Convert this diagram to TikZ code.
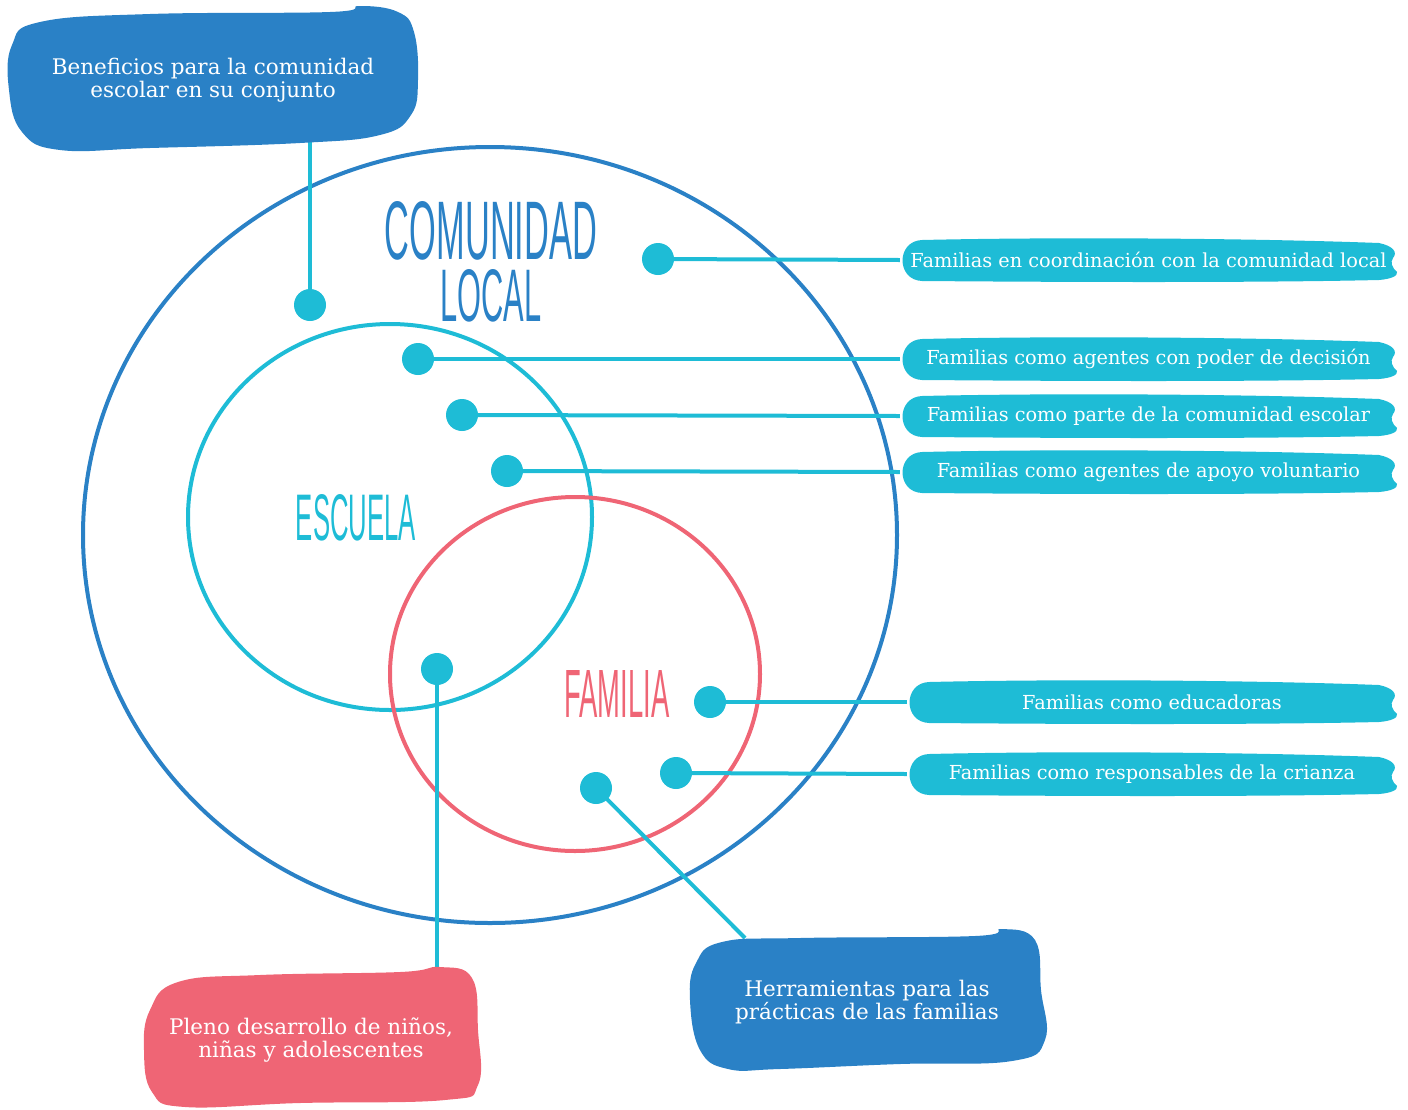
\documentclass[tikz,border=0pt]{standalone}
\usepackage{fontspec}
\usepackage{graphicx}
\setmainfont{DejaVu Serif}
\newfontfamily\handfont{Liberation Sans}
\usetikzlibrary{backgrounds}
\definecolor{cblue}{RGB}{42,129,198}
\definecolor{ccyan}{RGB}{30,188,214}
\definecolor{cpink}{RGB}{239,101,117}
\newcommand\mypill[4]{%
  \pgfmathsetmacro\pw{1397-#2}%
  \begin{scope}[shift={(#2,#3)}]
    \fill[ccyan] (22,-20) .. controls (150,-23) and (\pw-150,-22) .. (\pw-18,-17)
      .. controls (\pw-4,-14) and (\pw+1,-8) .. (\pw-4,-2)
      .. controls (\pw-7,2) and (\pw-5,8) .. (\pw,12)
      .. controls (\pw+1,16) and (\pw-6,19) .. (\pw-18,20)
      .. controls (\pw-150,23) and (150,22) .. (22,21)
      .. controls (-4,20) and (-4,-19) .. cycle;
  \end{scope}
  \node[pilltxt, minimum width=\pw pt] (#1) at ({(#2+1397)/2},#3) {#4};
}
\begin{document}
\begin{tikzpicture}[x=1pt,y=-1pt,
  pilltxt/.style={text=white, font=\fontsize{19.3}{22}\selectfont, inner sep=0pt, minimum height=40pt},
  boxtxt/.style={text=white, align=center, font=\fontsize{21.5}{22.5}\selectfont, inner sep=0pt},
  dot/.style={circle, fill=ccyan, minimum size=32pt, inner sep=0pt},
  conn/.style={ccyan, line width=4pt},
  ring/.style={line width=4pt},
  title/.style={inner sep=0pt, font=\handfont}]
\useasboundingbox (0,0) rectangle (1408,1109);

\begin{pgfonlayer}{background}
  \draw[ring, cblue] (490,535) ellipse [x radius=407, y radius=388];
  \draw[ring, ccyan] (390,517) ellipse [x radius=202, y radius=193];
  \draw[ring, cpink] (575,674) ellipse [x radius=185, y radius=177];
\end{pgfonlayer}

% blobs
\fill[cblue] plot[smooth cycle, tension=0.7] coordinates {(12,45) (40,22) (150,14) (330,12) (360,6) (398,12) (414,32) (418,80) (411,115) (380,135) (300,143) (150,148) (60,150) (22,132) (9,90)};
\fill[cpink] plot[smooth cycle, tension=0.7] coordinates {(150,1010) (178,982) (260,975) (400,972) (440,967) (472,978) (478,1030) (478,1085) (445,1100) (300,1103) (185,1107) (152,1092) (144,1050)};
\fill[cblue] plot[smooth cycle, tension=0.7] coordinates {(696,963) (722,942) (800,938) (975,936) (1002,929) (1035,940) (1041,990) (1045,1040) (1012,1061) (900,1064) (780,1069) (728,1069) (700,1050) (690,1000)};

\node[boxtxt] (ben) at (213,80) {Beneficios para la comunidad\\escolar en su conjunto};
\node[boxtxt] (ple) at (311,1040) {Pleno desarrollo de niños,\\niñas y adolescentes};
\node[boxtxt] (her) at (867,1002) {Herramientas para las\\prácticas de las familias};
\coordinate (benC) at (310,140);
\coordinate (pleC) at (437,972);
\coordinate (herC) at (745,938);

% titles
\node[title, text=cblue, anchor=north] (com) at (491,201) {\parbox{220pt}{\centering\offinterlineskip
  \resizebox{212pt}{58pt}{COMUNIDAD}\par\vspace{9pt}\resizebox{101pt}{52pt}{LOCAL}}};
\node[title, text=ccyan] (esc) at (356,518) {\resizebox{120pt}{46pt}{ESCUELA}};
\node[title, text=cpink] (fam) at (617,694) {\resizebox{105pt}{47pt}{FAMILIA}};

% pills
\mypill{p1}{900}{260}{Familias en coordinación con la comunidad local}
\mypill{p2}{900}{359}{Familias como agentes con poder de decisión}
\mypill{p3}{900}{416}{Familias como parte de la comunidad escolar}
\mypill{p4}{900}{472}{Familias como agentes de apoyo voluntario}
\mypill{p5}{907}{702}{Familias como educadoras}
\mypill{p6}{907}{774}{Familias como responsables de la crianza}

% dots
\node[dot] (d1) at (310,305) {};
\node[dot] (d2) at (658,259) {};
\node[dot] (d3) at (418,359) {};
\node[dot] (d4) at (462,415) {};
\node[dot] (d5) at (507,471) {};
\node[dot] (d6) at (437,669) {};
\node[dot] (d7) at (710,702) {};
\node[dot] (d8) at (676,773) {};
\node[dot] (d9) at (596,788) {};

\begin{pgfonlayer}{background}
  \draw[conn] (d1.center) -- (benC);
  \draw[conn] (d2.center) -- (p1.west);
  \draw[conn] (d3.center) -- (p2.west);
  \draw[conn] (d4.center) -- (p3.west);
  \draw[conn] (d5.center) -- (p4.west);
  \draw[conn] (d6.center) -- (pleC);
  \draw[conn] (d7.center) -- (p5.west);
  \draw[conn] (d8.center) -- (p6.west);
  \draw[conn] (d9.center) -- (herC);
\end{pgfonlayer}
\end{tikzpicture}
\end{document}
